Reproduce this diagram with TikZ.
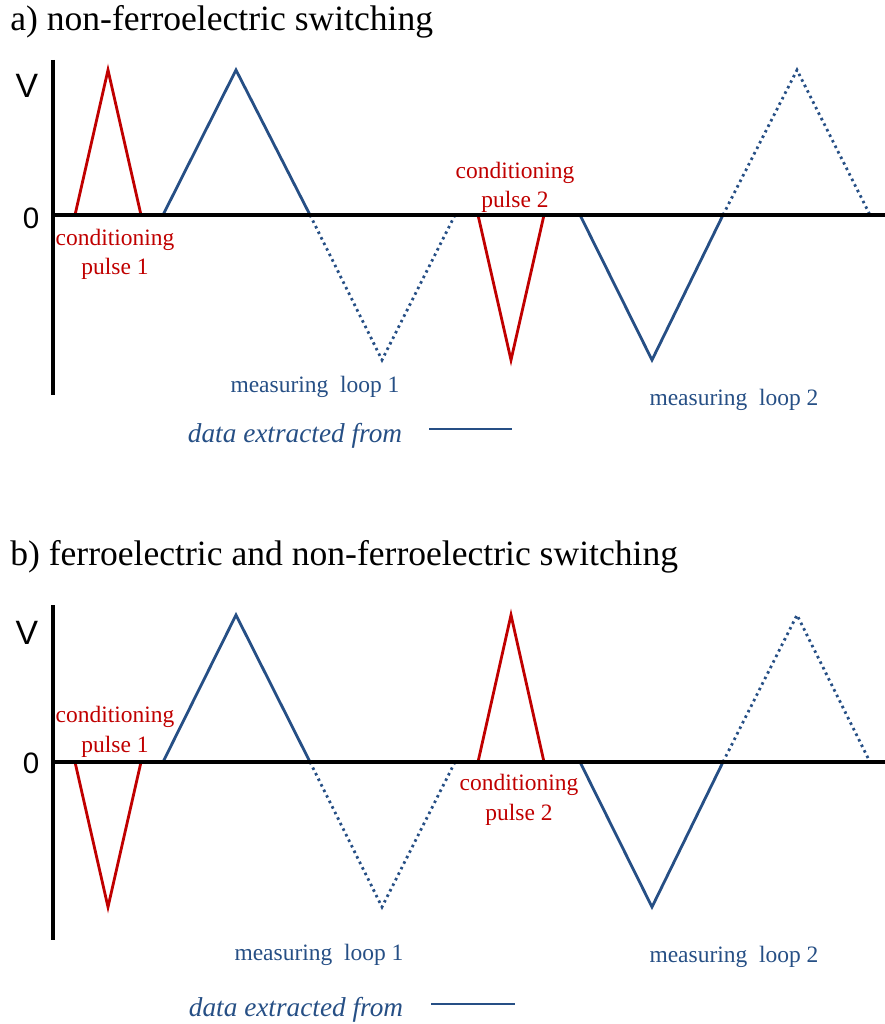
\documentclass[tikz,border=0pt]{standalone}
\usepackage{fontspec}
\setmainfont{Liberation Serif}
\newfontfamily\axisfont{Liberation Sans}
\usetikzlibrary{positioning}
\definecolor{pulsered}{RGB}{192,0,0}
\definecolor{loopblue}{RGB}{38,79,133}

\tikzset{
  axis/.style={line width=2.8pt, black},
  pulse/.style={line width=2pt, pulsered},
  loopline/.style={line width=2pt, loopblue},
  loopdot/.style={line width=2pt, loopblue, dash pattern=on 1.8pt off 2.6pt},
  paneltitle/.style={font=\fontsize{25.3}{30}\selectfont, anchor=base west, inner sep=0pt},
  vlabel/.style={font=\axisfont\fontsize{24}{28}\selectfont, inner sep=0pt},
  zlabel/.style={font=\axisfont\fontsize{21}{24}\selectfont, inner sep=0pt},
  redlabel/.style={font=\fontsize{16.7}{21}\selectfont, pulsered, align=center, anchor=base, inner sep=0pt},
  bluelabel/.style={font=\fontsize{16.7}{21}\selectfont, loopblue, anchor=base, inner sep=0pt},
  keylabel/.style={font=\itshape\fontsize{19.4}{23}\selectfont, loopblue, anchor=base, inner sep=0pt}
}

\begin{document}
\begin{tikzpicture}[x=0.025cm, y=-0.025cm]
  \useasboundingbox (0,0) rectangle (885,1024);

  % a) panel
  \node[paneltitle] (titleA) at (10,31) {a) non-ferroelectric switching};
  \node[vlabel] (vA) at (27,86) {V};
  \node[zlabel] (zeroA) at (31,218) {0};
  % pulses and loops
  \draw[pulse] (75,215) -- (108,70) -- (141,215);
  \draw[loopline] (163,215) -- (236,70) -- (310,215);
  \draw[loopdot] (310,215) -- (382,360) -- (455,215);
  \draw[pulse] (478,215) -- (511,360) -- (544,215);
  \draw[loopline] (580,215) -- (652,360) -- (723,215);
  \draw[loopdot] (723,215) -- (797,70) -- (870,215);
  % axes
  \draw[axis] (53,60) -- (53,395);
  \draw[axis] (53,215) -- (885,215);
  % labels (base = last line)
  \node[redlabel] (condA1) at (115,275) {conditioning\\pulse 1};
  \node[redlabel] (condA2) at (515,208) {conditioning\\pulse 2};
  \node[bluelabel] (measA1) at (315,392) {measuring~~loop 1};
  \node[bluelabel] (measA2) at (734,405) {measuring~~loop 2};
  \node[keylabel] (keyA) at (295,442) {data extracted from};
  \coordinate (keyA1) at (429,429);
  \coordinate (keyA2) at (512,429);
  \draw[loopline] (keyA1) -- (keyA2);

  % b) panel
  \node[paneltitle] (titleB) at (10,565) {b) ferroelectric and non-ferroelectric switching};
  \node[vlabel] (vB) at (27,633) {V};
  \node[zlabel] (zeroB) at (31,763) {0};
  % pulses and loops
  \draw[pulse] (75,762) -- (108,907) -- (141,762);
  \draw[loopline] (163,762) -- (236,615) -- (310,762);
  \draw[loopdot] (310,762) -- (382,907) -- (455,762);
  \draw[pulse] (478,762) -- (511,615) -- (544,762);
  \draw[loopline] (580,762) -- (652,907) -- (723,762);
  \draw[loopdot] (723,762) -- (797,615) -- (870,762);
  % axes
  \draw[axis] (53,605) -- (53,940);
  \draw[axis] (53,762) -- (885,762);
  % labels (base = last line)
  \node[redlabel] (condB1) at (115,752) {conditioning\\pulse 1};
  \node[redlabel] (condB2) at (519,820) {conditioning\\pulse 2};
  \node[bluelabel] (measB1) at (319,960) {measuring~~loop 1};
  \node[bluelabel] (measB2) at (734,962) {measuring~~loop 2};
  \node[keylabel] (keyB) at (296,1016) {data extracted from};
  \coordinate (keyB1) at (431,1004);
  \coordinate (keyB2) at (515,1004);
  \draw[loopline] (keyB1) -- (keyB2);
\end{tikzpicture}
\end{document}
